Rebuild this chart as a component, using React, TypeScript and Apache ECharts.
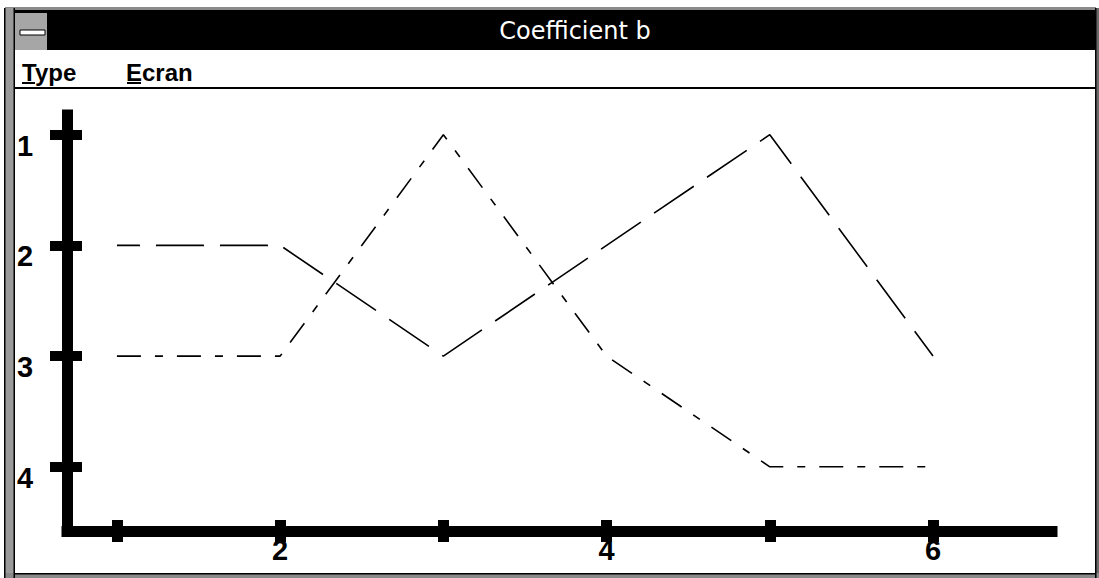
import React, { useEffect, useRef } from "react";
import * as echarts from "echarts";

const xValues = [1, 2, 3, 4, 5, 6];
const seriesA = [2, 2, 3, 2, 1, 3];
const seriesB = [3, 3, 1, 3, 4, 4];
const xTickValues = [1, 2, 3, 4, 5, 6];
const xLabelValues = [2, 4, 6];
const yTickValues = [1, 2, 3, 4];
const titleText = "Coefficient b";
const menuItems = ["Type", "Ecran"];

export default function App() {
  const ref = useRef<HTMLDivElement>(null);

  useEffect(() => {
    const chart = echarts.init(ref.current!, null, { renderer: "svg", width: 1099, height: 578 });
    const numFont = "'Liberation Sans', Arial, sans-serif";
    const menuFont = "'Liberation Sans', Arial, sans-serif";

    const X_MIN = 0.694;
    const X_MAX = 6.729;
    const Y_MIN = 0.822;
    const Y_MAX = 4.58;

    const labelStyle = {
      fontFamily: numFont,
      fontWeight: "bold" as const,
      fontSize: 29,
      color: "#000",
      lineHeight: 22,
      verticalAlign: "top" as const,
    };

    const option: any = {
      animation: false,
      backgroundColor: "#fff",
      grid: { left: 67, right: 47, top: 115, bottom: 47, containLabel: false },
      xAxis: [
        {
          type: "value",
          position: "bottom",
          min: X_MIN,
          max: X_MAX,
          splitLine: { show: false },
          axisLine: { show: true, lineStyle: { color: "#000", width: 11, cap: "square" } },
          axisTick: {
            show: true,
            customValues: xTickValues,
            inside: false,
            length: 11,
            lineStyle: { color: "#000", width: 11 },
          },
          axisLabel: { ...labelStyle, customValues: xLabelValues, margin: 8 },
        },
        {
          type: "value",
          position: "bottom",
          offset: 0,
          min: X_MIN,
          max: X_MAX,
          splitLine: { show: false },
          axisLine: { show: false },
          axisTick: {
            show: true,
            customValues: xTickValues,
            inside: true,
            length: 11,
            lineStyle: { color: "#000", width: 11 },
          },
          axisLabel: { show: false },
        },
      ],
      yAxis: [
        {
          type: "value",
          position: "left",
          inverse: true,
          min: Y_MIN,
          max: Y_MAX,
          splitLine: { show: false },
          axisLine: { show: true, lineStyle: { color: "#000", width: 11, cap: "square" } },
          axisTick: {
            show: true,
            customValues: yTickValues,
            inside: false,
            length: 17,
            lineStyle: { color: "#000", width: 10 },
          },
          axisLabel: { ...labelStyle, customValues: yTickValues, align: "left", margin: 50 },
        },
        {
          type: "value",
          position: "left",
          offset: 0,
          inverse: true,
          min: Y_MIN,
          max: Y_MAX,
          splitLine: { show: false },
          axisLine: { show: false },
          axisTick: {
            show: true,
            customValues: yTickValues,
            inside: true,
            length: 15,
            lineStyle: { color: "#000", width: 10 },
          },
          axisLabel: { show: false },
        },
      ],
      series: [
        {
          name: "A",
          type: "line",
          xAxisIndex: 0,
          yAxisIndex: 0,
          symbol: "none",
          data: xValues.map((x, i) => [x, seriesA[i]]),
          lineStyle: { color: "#000", width: 1.6, type: [48, 16], dashOffset: 25 },
        },
        {
          name: "B",
          type: "line",
          xAxisIndex: 0,
          yAxisIndex: 0,
          symbol: "none",
          data: xValues.map((x, i) => [x, seriesB[i]]),
          lineStyle: { color: "#000", width: 1.6, type: [24, 14, 8, 14] },
        },
      ],
      graphic: [
        // top thin border
        { type: "rect", shape: { x: 5, y: 7, width: 1091, height: 4 }, style: { fill: "#8a8a8a" }, z: 10 },
        // title bar
        { type: "rect", shape: { x: 15, y: 10, width: 1081, height: 40 }, style: { fill: "#000" }, z: 10 },
        // system menu box
        { type: "rect", shape: { x: 15, y: 13, width: 32, height: 37 }, style: { fill: "#a6a6a6" }, z: 11 },
        { type: "rect", shape: { x: 20, y: 30, width: 25, height: 5 }, style: { fill: "#fff", stroke: "#000", lineWidth: 1 }, z: 12 },
        // title
        {
          type: "text",
          z: 12,
          style: {
            text: titleText,
            x: 575,
            y: 31,
            fill: "#fff",
            font: "24px 'DejaVu Sans', sans-serif",
            align: "center",
            verticalAlign: "middle",
          },
        },
        // menu items
        {
          type: "text",
          z: 12,
          style: {
            text: menuItems[0],
            x: 22,
            y: 72,
            fill: "#000",
            font: "bold 24px " + menuFont,
            align: "left",
            verticalAlign: "middle",
          },
        },
        {
          type: "text",
          z: 12,
          style: {
            text: menuItems[1],
            x: 126,
            y: 72,
            fill: "#000",
            font: "bold 24px " + menuFont,
            align: "left",
            verticalAlign: "middle",
          },
        },
        { type: "rect", shape: { x: 22, y: 82, width: 13, height: 2 }, style: { fill: "#000" }, z: 12 },
        { type: "rect", shape: { x: 127, y: 82, width: 14, height: 2 }, style: { fill: "#000" }, z: 12 },
        // menu separator
        { type: "rect", shape: { x: 15, y: 87, width: 1081, height: 2 }, style: { fill: "#000" }, z: 12 },
        // left border
        { type: "rect", shape: { x: 4, y: 8, width: 11, height: 570 }, style: { fill: "#9a9a9a" }, z: 12 },
        { type: "rect", shape: { x: 4, y: 8, width: 1.5, height: 570 }, style: { fill: "#000" }, z: 13 },
        { type: "rect", shape: { x: 13.5, y: 8, width: 1.5, height: 570 }, style: { fill: "#000" }, z: 13 },
        // right border
        { type: "rect", shape: { x: 1095, y: 8, width: 4, height: 570 }, style: { fill: "#6a6a6a" }, z: 12 },
        { type: "rect", shape: { x: 1095, y: 8, width: 1.5, height: 570 }, style: { fill: "#000" }, z: 13 },
        // bottom border
        { type: "rect", shape: { x: 4, y: 573, width: 1095, height: 5 }, style: { fill: "#8a8a8a" }, z: 12 },
        { type: "rect", shape: { x: 15, y: 573, width: 1081, height: 1.5 }, style: { fill: "#000" }, z: 13 },
      ],
    };

    chart.setOption(option);
    return () => {
      chart.dispose();
    };
  }, []);

  return (
    <div
      ref={ref}
      style={{ position: "fixed", left: 0, top: 0, width: 1099, height: 578, background: "#fff" }}
    />
  );
}
